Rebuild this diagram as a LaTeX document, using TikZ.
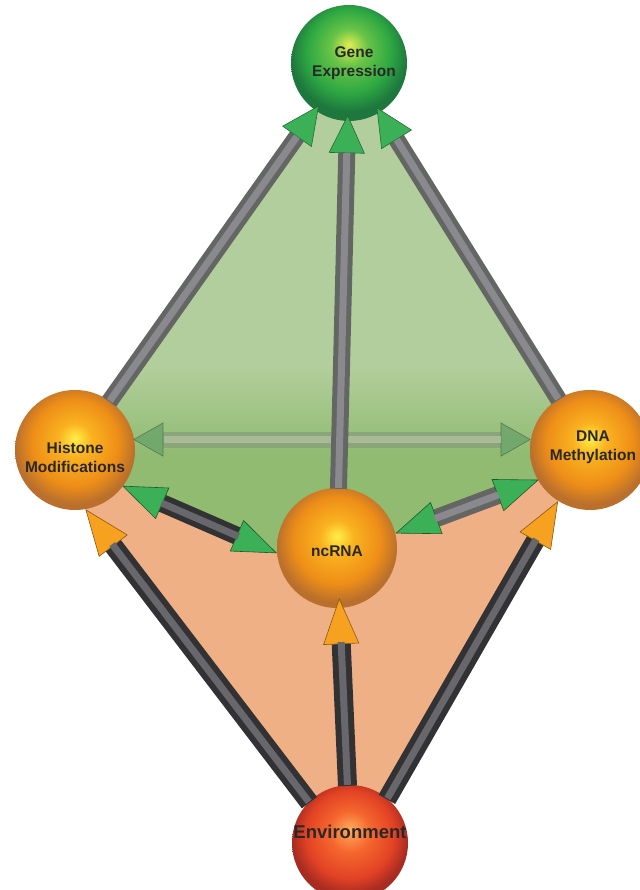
\documentclass[tikz,border=0pt]{standalone}
\usepackage{fontspec}
\newfontfamily\lbl{Liberation Sans}
\usetikzlibrary{arrows.meta,backgrounds}

\definecolor{peche}{RGB}{239,176,134}
\definecolor{vertclair}{RGB}{178,206,156}
\definecolor{vertfonce}{RGB}{144,187,112}
\definecolor{bargris}{RGB}{100,102,100}
\definecolor{barnoir}{RGB}{50,50,52}
\definecolor{barclair}{RGB}{138,138,142}
\definecolor{barmoyen}{RGB}{104,104,108}
\definecolor{barpale}{RGB}{138,163,122}
\definecolor{barpaleclair}{RGB}{170,190,154}
\definecolor{cvert}{RGB}{60,176,86}
\definecolor{cpale}{RGB}{112,166,108}
\definecolor{corange}{RGB}{246,162,32}
\definecolor{texte}{RGB}{40,40,40}
% couleurs des boules
\definecolor{orHL}{RGB}{255,238,72}
\definecolor{orMid}{RGB}{250,178,32}
\definecolor{orOut}{RGB}{238,142,24}
\definecolor{orRim}{RGB}{186,112,44}
\definecolor{grHL}{RGB}{226,236,82}
\definecolor{grMid}{RGB}{104,196,72}
\definecolor{grOut}{RGB}{46,168,66}
\definecolor{grRim}{RGB}{30,120,62}
\definecolor{reHL}{RGB}{255,172,92}
\definecolor{reMid}{RGB}{245,102,46}
\definecolor{reOut}{RGB}{226,66,36}
\definecolor{reRim}{RGB}{168,44,34}

\pgfdeclareradialshading{bouleorange}{\pgfpoint{0bp}{5bp}}{color(0bp)=(orHL); color(7bp)=(orMid); color(18bp)=(orOut); color(25bp)=(orRim); color(50bp)=(orRim)}
\pgfdeclareradialshading{bouleverte}{\pgfpoint{0bp}{8bp}}{color(0bp)=(grHL); color(8bp)=(grMid); color(18bp)=(grOut); color(25bp)=(grRim); color(50bp)=(grRim)}
\pgfdeclareradialshading{boulerouge}{\pgfpoint{0bp}{6bp}}{color(0bp)=(reHL); color(9bp)=(reMid); color(19bp)=(reOut); color(25bp)=(reRim); color(50bp)=(reRim)}
\pgfdeclareverticalshading{facevert}{100bp}{color(0bp)=(vertfonce); color(35bp)=(vertfonce); color(44bp)=(vertclair); color(100bp)=(vertclair)}

\begin{document}
\begin{tikzpicture}[x=1pt,y=1pt,
	boule/.style 2 args={circle,minimum size=#1,inner sep=0pt,shading=#2},
	etiq/.style={align=center,text=texte,font=\lbl\bfseries\fontsize{15.5}{19}\selectfont},
	barre/.style={line width=#1,line cap=butt,shorten <=-1pt},
	reflet/.style n args={3}{postaction={draw=#1,line width=7pt,-,shorten <=#2,shorten >=#3}},
	conev/.tip={Triangle[length=38pt,width=36pt,fill=cvert,color=cvert!60!black,line width=.6pt]},
	conep/.tip={Triangle[length=30pt,width=34pt,fill=cpale,color=cpale!70!black,line width=.6pt]},
	coneb/.tip={Triangle[length=44pt,width=34pt,fill=cvert,color=cvert!50!black,line width=.6pt]},
	coneo/.tip={Triangle[length=46pt,width=36pt,fill=corange,color=corange!55!black,line width=.6pt]}]
	\useasboundingbox (0,0) rectangle (639,890);
	% les boules
	\node[boule={116pt}{bouleverte},label={[etiq,xshift=5pt]center:Gene\\Expression}] (gene) at (349,827) {};
	\node[boule={120pt}{bouleorange},label={[etiq,yshift=-7pt]center:Histone\\Modifications}] (hist) at (75,440) {};
	\node[boule={120pt}{bouleorange},label={[etiq,xshift=3pt,yshift=3pt]center:DNA\\Methylation}] (dna) at (590,440) {};
	\node[boule={120pt}{bouleorange},label={[etiq,yshift=-3pt]center:ncRNA}] (ncrna) at (337,342) {};
	\node[boule={116pt}{boulerouge},label={[etiq,font=\lbl\bfseries\fontsize{18.5}{22}\selectfont,yshift=11pt]center:Environment}] (env) at (350,47) {};
	% les faces
	\begin{pgfonlayer}{background}
		\fill[peche] (hist.-37) -- (ncrna.185) -- (ncrna.14) -- (dna.210) -- (dna.238) -- (env.50) -- (env.135) -- (hist.-80) -- cycle;
		\shade[shading=facevert] (gene.center) -- (hist.center) -- (hist.-37) -- (ncrna.185) -- (ncrna.14) -- (dna.210) -- (dna.center) -- cycle;
	\end{pgfonlayer}
	% les barres
	\draw[barre=16pt,draw=barpale,conep-conep,opacity=.9,reflet={barpaleclair}{30pt}{30pt}] (hist.10) -- (dna.170); % derriere
	\draw[barre=17pt,draw=bargris,-conev,shorten >=-6pt,reflet={barclair}{0pt}{32pt}] (hist) -- (gene);
	\draw[barre=17pt,draw=bargris,-conev,shorten >=-6pt,reflet={barclair}{0pt}{32pt}] (dna) -- (gene);
	\draw[barre=17pt,draw=bargris,-conev,shorten >=-6pt,reflet={barclair}{0pt}{32pt}] (ncrna) -- (gene);
	\draw[barre=18pt,draw=barnoir,coneb-coneb,reflet={barmoyen}{42pt}{42pt}] (hist.-37) -- (ncrna.185);
	\draw[barre=18pt,draw=bargris,coneb-coneb,reflet={barclair}{42pt}{42pt}] (dna.210) -- (ncrna.14);
	\draw[barre=19pt,draw=barnoir,-coneo,reflet={barmoyen}{0pt}{44pt}] (env.135) -- (hist.-80);
	\draw[barre=19pt,draw=barnoir,-coneo,reflet={barmoyen}{0pt}{44pt}] (env.50) -- (dna.238);
	\draw[barre=19pt,draw=barnoir,-coneo,shorten >=-10pt,reflet={barmoyen}{0pt}{34pt}] (env) -- (ncrna);
\end{tikzpicture}
\end{document}
